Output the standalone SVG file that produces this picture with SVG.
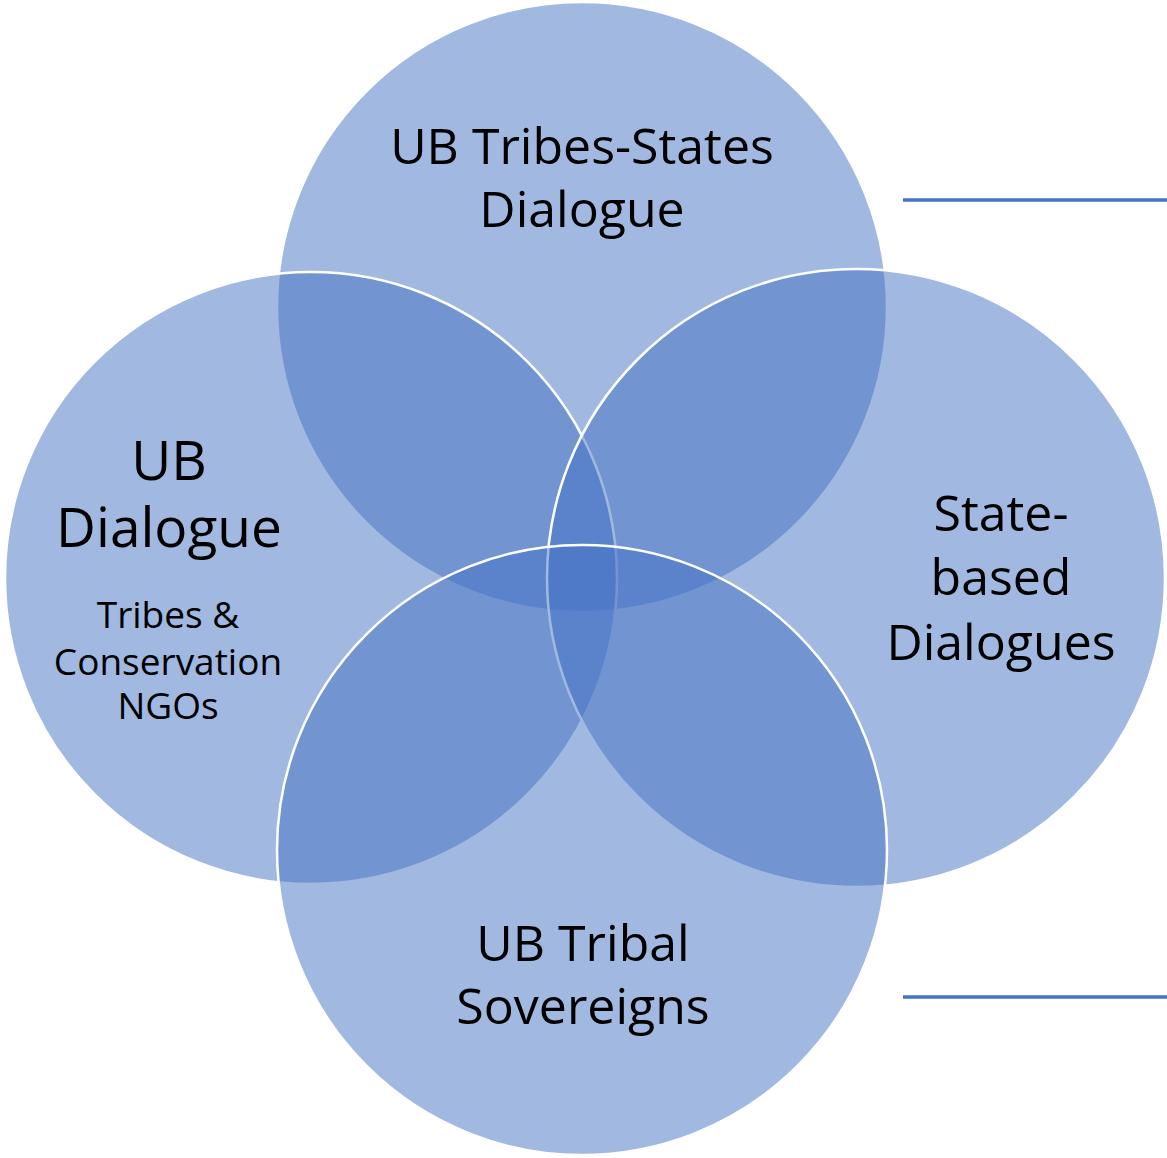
<svg xmlns="http://www.w3.org/2000/svg" width="1167" height="1158" viewBox="0 0 1167 1158">
<style>
.c{fill:#4472C4;fill-opacity:0.5;stroke:#FFFFFF;stroke-width:2.5}
.t{font-family:"Open Sans","Liberation Sans",sans-serif;fill:#000;text-anchor:middle}
.l{stroke:#4472C4;stroke-width:3.5}
</style>
<rect width="1167" height="1158" fill="#FFFFFF"/>
<g id="connectors">
<line class="l" x1="903" y1="200" x2="1167" y2="200"/>
<line class="l" x1="903" y1="997" x2="1167" y2="997"/>
</g>
<g id="node-top">
<circle class="c" cx="582" cy="307" r="305"/>
</g>
<g id="node-left">
<circle class="c" cx="311" cy="578" r="306"/>
</g>
<g id="node-right">
<circle class="c" cx="856" cy="578" r="309"/>
</g>
<g id="node-bottom">
<circle class="c" cx="582" cy="850" r="305"/>
</g>
<g id="labels">
<text class="t" x="582" y="164" font-size="50">UB Tribes-States</text>
<text class="t" x="582" y="227" font-size="50">Dialogue</text>
<text class="t" x="169" y="480" font-size="55">UB</text>
<text class="t" x="169" y="547" font-size="55">Dialogue</text>
<text class="t" x="168" y="628" font-size="37">Tribes &amp;</text>
<text class="t" x="168" y="675" font-size="37">Conservation</text>
<text class="t" x="168" y="719" font-size="37">NGOs</text>
<text class="t" x="1001" y="531" font-size="50">State-</text>
<text class="t" x="1001" y="595" font-size="50">based</text>
<text class="t" x="1001" y="660" font-size="50">Dialogues</text>
<text class="t" x="583" y="961" font-size="50">UB Tribal</text>
<text class="t" x="583" y="1024" font-size="50">Sovereigns</text>
</g>
</svg>
